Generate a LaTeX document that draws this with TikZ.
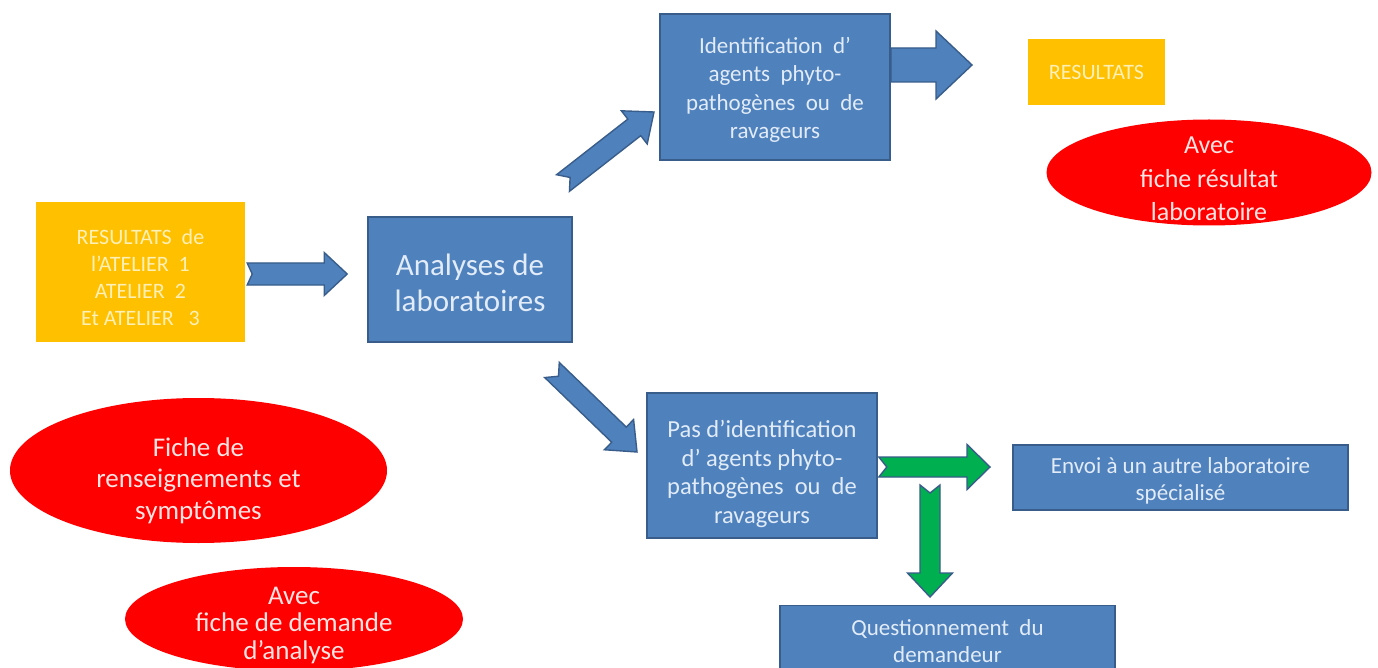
\documentclass[tikz,border=0pt]{standalone}
\usepackage{fontspec}
\setmainfont{Carlito}
\usetikzlibrary{calc,shapes.geometric}
\definecolor{bluefill}{HTML}{4F81BD}
\definecolor{blueline}{HTML}{385D8A}
\definecolor{yel}{HTML}{FFC000}
\definecolor{yeltext}{HTML}{FFF0B8}
\definecolor{redfill}{HTML}{FF0000}
\definecolor{redtext}{HTML}{FFE4E4}
\definecolor{bluetext}{HTML}{E2ECF8}
\definecolor{grn}{HTML}{00B050}
% #1 style, #2 tail, #3 tip, #4 shaft half width, #5 head half width, #6 head length, #7 notch depth, #8 prefix
\newcommand\notchedarrow[8]{%
  \coordinate (#8H) at ($(#3)!#6!(#2)$);
  \filldraw[#1]
    ($(#2)!#4!90:(#3)$) -- ($(#8H)!#4!-90:(#2)$) -- ($(#8H)!#5!-90:(#2)$) -- (#3)
    -- ($(#8H)!#5!90:(#2)$) -- ($(#8H)!#4!90:(#2)$) -- ($(#2)!#4!-90:(#3)$)
    -- ($(#2)!#7!(#3)$) -- cycle;
}
\begin{document}
\begin{tikzpicture}[x=1pt,y=-1pt,
  bluebox/.style={rectangle,fill=bluefill,draw=blueline,line width=1.6pt,inner sep=0pt},
  bluetxt/.style={text=bluetext,align=center,inner sep=0pt},
  yelbox/.style={rectangle,fill=yel,inner sep=0pt},
  yeltxt/.style={text=yeltext,align=center,inner sep=0pt},
  redell/.style={ellipse,fill=redfill,inner sep=0pt},
  redtxt/.style={text=redtext,align=center,inner sep=0pt},
  bluearrow/.style={fill=bluefill,draw=blueline,line width=1.4pt,line join=miter},
  greenarrow/.style={fill=grn,draw=blueline,line width=1.4pt,line join=miter}]
\useasboundingbox (0,0) rectangle (1378,668);
\fill[white] (0,0) rectangle (1378,668);

% shapes
\node[yelbox,minimum width=209pt,minimum height=140pt] (res1) at (140.5,272) {};
\node[bluebox,minimum width=204pt,minimum height=125pt] (ana) at (470,279.5) {};
\node[bluebox,minimum width=230pt,minimum height=146pt] (ident) at (775,87) {};
\node[yelbox,minimum width=137pt,minimum height=66pt] (res2) at (1096.5,72) {};
\node[redell,minimum width=325pt,minimum height=106pt] (ell1) at (1209,172.5) {};
\node[redell,minimum width=377pt,minimum height=145pt] (ell2) at (198.5,470.5) {};
\node[redell,minimum width=338pt,minimum height=104pt] (ell3) at (294,619) {};
\node[bluebox,minimum width=230pt,minimum height=145pt] (pas) at (762,465.5) {};
\node[bluebox,minimum width=335pt,minimum height=65pt] (env) at (1180.5,477.5) {};
\node[bluebox,minimum width=335pt,minimum height=63pt] (que) at (947.5,637) {};

% texts
\node[yeltxt,font=\fontsize{22}{27}\selectfont] (res1t) at ($(res1.center)+(0,5)$)
  {RESULTATS\ \ de\\ l'ATELIER\ \ 1\\ ATELIER\ \ 2\\ Et ATELIER\ \ \ 3};
\node[bluetxt,font=\fontsize{31}{36}\selectfont] (anat) at ($(ana.center)+(0,3)$)
  {Analyses de\\ laboratoires};
\node[bluetxt,font=\fontsize{23}{28.3}\selectfont] (identt) at ($(ident.center)+(0,3)$)
  {Identification\ \ d'\\ agents\ \ phyto-\\ pathogènes\ \ ou\ \ de\\ ravageurs};
\node[yeltxt,font=\fontsize{22}{26}\selectfont] (res2t) at (res2.center)
  {RESULTATS};
\node[redtxt,font=\fontsize{26}{33.5}\selectfont] (ell1t) at ($(ell1.center)+(0,6.5)$)
  {Avec\\ fiche résultat\\ laboratoire};
\node[redtxt,font=\fontsize{27}{31.5}\selectfont] (ell2t) at ($(ell2.center)+(0,10)$)
  {Fiche de\\ renseignements et\\ symptômes};
\node[redtxt,font=\fontsize{27}{27.5}\selectfont] (ell3t) at ($(ell3.center)+(0,6.5)$)
  {Avec\\ fiche de demande\\ d'analyse};
\node[bluetxt,font=\fontsize{24.5}{28.5}\selectfont] (past) at ($(pas.center)+(0,8.5)$)
  {Pas d'identification\\ d' agents phyto-\\ pathogènes\ \ ou\ \ de\\ ravageurs};
\node[bluetxt,font=\fontsize{23}{27}\selectfont] (envt) at ($(env.center)+(0,3.5)$)
  {Envoi à un autre laboratoire\\ spécialisé};
\node[bluetxt,font=\fontsize{23}{27}\selectfont] (quet) at ($(que.center)+(0,4)$)
  {Questionnement\ \ du\\ demandeur};

% arrow endpoints
\coordinate (a1t) at ($(res1.east)+(2,2)$);
\coordinate (a1h) at ($(ana.west)+(-20,-5.5)$);
\coordinate (a2t) at (563,183);
\coordinate (a2h) at (654,112);
\coordinate (a3t) at ($(ident.east)+(0,-22)$);
\coordinate (a3h) at (972,65);
\coordinate (a4t) at (552,370);
\coordinate (a4h) at (637,452);
\coordinate (a5t) at ($(pas.east)+(1,1.5)$);
\coordinate (a5h) at (990,467);
\coordinate (a6t) at (930,485);
\coordinate (a6h) at (930,597);

\notchedarrow{bluearrow}{a1t}{a1h}{11pt}{21.5pt}{23pt}{5pt}{A}
\notchedarrow{bluearrow}{a2t}{a2h}{10.5pt}{21pt}{25pt}{9pt}{B}
\notchedarrow{bluearrow}{a3t}{a3h}{17pt}{34pt}{36pt}{0pt}{C}
\notchedarrow{bluearrow}{a4t}{a4h}{10.5pt}{21pt}{25pt}{9pt}{D}
\notchedarrow{greenarrow}{a5t}{a5h}{10pt}{22.5pt}{23pt}{8pt}{E}
\notchedarrow{greenarrow}{a6t}{a6h}{10pt}{22.5pt}{24pt}{8pt}{F}
\end{tikzpicture}
\end{document}
